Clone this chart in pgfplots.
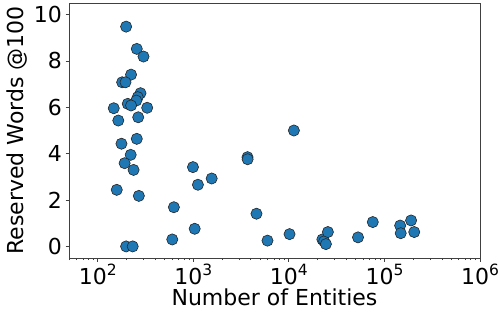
\documentclass[border=0pt]{standalone}
\usepackage{pgfplots}
\pgfplotsset{compat=1.18}
\usepackage{fontspec}
\setmainfont{DejaVu Sans}
\definecolor{mplblue}{HTML}{1F77B4}
\newcommand{\pw}[1]{10\raisebox{0.42em}{\fontsize{15.5}{16}\selectfont #1}}
\begin{document}
\begin{tikzpicture}[x=1pt,y=1pt]
\begin{axis}[
  scale only axis,
  width=411pt, height=255pt,
  xmode=log, log basis x=10,
  xmin=50, xmax=1000000,
  ymin=-0.5, ymax=10.5,
  xtick={100,1000,10000,100000,1000000},
  xticklabels={{\pw{2}},{\pw{3}},{\pw{4}},{\pw{5}},{\pw{6}}},
  minor xtick={50,60,70,80,90,200,300,400,500,600,700,800,900,2000,3000,4000,5000,6000,7000,8000,9000,20000,30000,40000,50000,60000,70000,80000,90000,200000,300000,400000,500000,600000,700000,800000,900000},
  ytick={0,2,4,6,8,10},
  yticklabels={0,2,4,6,8,10},
  tick label style={font=\fontsize{22}{26}\selectfont},
  label style={font=\fontsize{22}{26}\selectfont},
  xlabel={Number of Entities},
  ylabel={Reserved Words @100},
  axis line style={black!75, line width=0.8pt},
  tick style={black!75, line width=0.8pt},
  tick align=outside,
  xtick pos=bottom, ytick pos=left,
  major tick length=3.5pt,
  minor tick length=2pt,
  xticklabel style={yshift=1pt},
  xlabel style={yshift=3pt},
  ylabel style={yshift=0pt},
  clip=false,
]
\addplot[only marks, mark=*, mark size=5.6pt,
  mark options={fill=mplblue, draw=black!85, line width=0.6pt}]
coordinates {
(198,9.48) (256,8.52) (301,8.19) (223,7.41) (180,7.08) (195,7.08)
(280,6.61) (262,6.44) (253,6.29) (206,6.15) (223,6.08) (147,5.96)
(329,5.98) (164,5.43) (265,5.57) (256,4.64) (177,4.43) (221,3.95)
(191,3.59) (237,3.30) (158,2.44) (269,2.18) (198,0) (232,0)
(626,1.69) (1033,0.76) (602,0.30) (991,3.42) (1117,2.66) (1556,2.93)
(3690,3.85) (3700,3.76) (11280,5.0) (4580,1.41) (5970,0.25) (10160,0.53)
(22400,0.30) (23400,0.22) (24400,0.10) (25600,0.62) (52900,0.39) (75500,1.05)
(146000,0.90) (148000,0.57) (190000,1.12) (205000,0.62)
};
\end{axis}
\pgfresetboundingbox
\path[use as bounding box] (-69,-60) rectangle (431,258);
\end{tikzpicture}
\end{document}
